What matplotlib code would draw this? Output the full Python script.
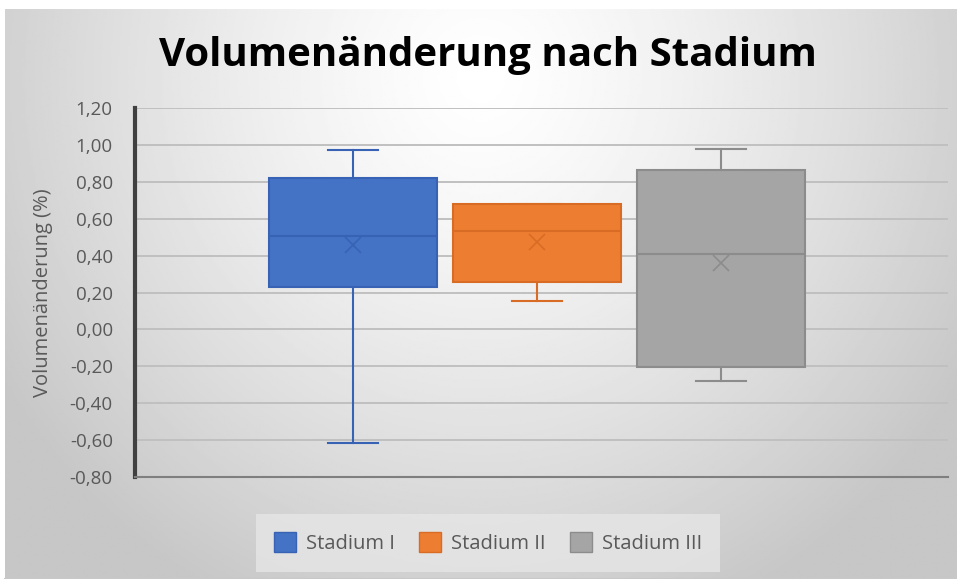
import numpy as np
import matplotlib
matplotlib.use("Agg")
import matplotlib.pyplot as plt
from matplotlib.patches import Patch
from matplotlib.ticker import FuncFormatter

# values
stages = ["Stadium I", "Stadium II", "Stadium III"]
whisker_low = [-0.615, 0.155, -0.280]
q1 = [0.232, 0.258, -0.203]
median = [0.507, 0.533, 0.409]
q3 = [0.820, 0.678, 0.863]
whisker_high = [0.972, 0.680, 0.978]
mean = [0.458, 0.473, 0.360]

fill_colors = ["#4472C4", "#ED7D31", "#A5A5A5"]
edge_colors = ["#3863b4", "#d86c25", "#8c8c8c"]

plt.rcParams['font.family'] = ['Open Sans', 'DejaVu Sans']

fig = plt.figure(figsize=(9.57, 5.79), dpi=100)
fig.patch.set_facecolor("white")

# radial grey background like the office chart area
bg = fig.add_axes([5/957, 0, 952/957, 570/579], zorder=-10)
yy, xx = np.mgrid[0:1:300j, 0:1:500j]
dist = np.sqrt(((xx - 0.5) / 0.75) ** 2 + ((yy - 0.12) / 1.3) ** 2)
shade = np.clip(1.0 - 0.30 * dist ** 1.3, 0.78, 1.0)
bg.imshow(shade, cmap="gray", vmin=0, vmax=1, aspect="auto", extent=[0, 1, 1, 0])
bg.set_axis_off()
bg.plot([0, 1], [0.0, 0.0], color="#c8c8c8", lw=1.5, transform=bg.transAxes, clip_on=False)

ax = fig.add_axes([135/957, 1 - 477/579, 813/957, 369/579])
ax.patch.set_alpha(0)

stats = []
for i, name in enumerate(stages):
    stats.append(dict(label=name, whislo=whisker_low[i], q1=q1[i], med=median[i],
                      q3=q3[i], whishi=whisker_high[i], mean=mean[i], fliers=[]))

positions = np.arange(1, len(stages) + 1)
for i in range(len(stages)):
    ax.bxp([stats[i]], positions=[positions[i]], widths=0.91, patch_artist=True,
           showmeans=True, capwidths=0.27,
           boxprops=dict(facecolor=fill_colors[i], edgecolor=edge_colors[i], linewidth=1.5),
           medianprops=dict(color=edge_colors[i], linewidth=1.5),
           whiskerprops=dict(color=edge_colors[i], linewidth=1.5),
           capprops=dict(color=edge_colors[i], linewidth=1.5),
           meanprops=dict(marker="x", markeredgecolor=edge_colors[i], markersize=12,
                          markeredgewidth=1.2),
           zorder=3)

ax.set_xlim(-0.185, 4.235)
ax.set_ylim(-0.80, 1.20)
ax.set_yticks(np.arange(-0.8, 1.21, 0.2))
ax.yaxis.set_major_formatter(FuncFormatter(lambda v, p: f"{v:.2f}".replace(".", ",").replace("-0,00", "0,00")))
ax.set_xticks([])
ax.grid(axis="y", color="#c0c0c0", linewidth=1.4, zorder=0)
ax.set_axisbelow(True)
ax.tick_params(axis="y", length=0, pad=16, labelsize=13.5, labelcolor="#595959")
for s in ["top", "right"]:
    ax.spines[s].set_visible(False)
ax.spines["left"].set_color("#404040")
ax.spines["left"].set_linewidth(3)
ax.spines["bottom"].set_color("#7f7f7f")
ax.spines["bottom"].set_linewidth(1.5)

ax.set_ylabel("Volumenänderung (%)", fontsize=14.5, color="#595959", labelpad=12)

fig.text(0.510, 0.905, "Volumenänderung nach Stadium", ha="center", va="center",
         fontsize=29, fontweight="bold", color="black")

handles = [Patch(facecolor=fill_colors[i], edgecolor=edge_colors[i], label=stages[i])
           for i in range(len(stages))]
leg = fig.legend(handles=handles, loc="center", bbox_to_anchor=(0.51, 0.062), ncol=3,
                 frameon=True, fontsize=14.5, handlelength=1.1, handleheight=1.1,
                 handletextpad=0.5, columnspacing=1.2, borderpad=0.9, fancybox=False)
leg.get_frame().set_facecolor("#e6e6e6")
leg.get_frame().set_edgecolor("none")
for t in leg.get_texts():
    t.set_color("#595959")

fig.savefig("out.png", dpi=100)
